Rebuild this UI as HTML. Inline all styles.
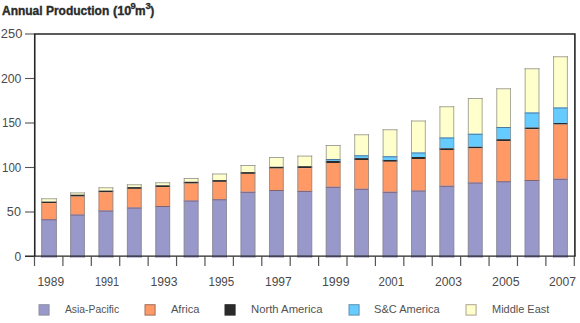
<!DOCTYPE html>
<html><head><meta charset="utf-8"><style>
html,body{margin:0;padding:0;background:#fff;width:580px;height:323px;overflow:hidden}
svg{display:block}
text{font-family:"Liberation Sans",sans-serif;fill:#333}
.ax{font-size:12px;fill:#4a4a4a}
.lg{font-size:11.5px;fill:#525252}
.tt{font-size:12px;font-weight:bold;fill:#2a2a2a;stroke:#2a2a2a;stroke-width:0.35}
.ts{font-size:9.5px;font-weight:bold;fill:#2a2a2a;stroke:#2a2a2a;stroke-width:0.3}
</style></head><body>
<svg width="580" height="323" viewBox="0 0 580 323">
<rect x="41.20" y="198.25" width="15.70" height="3.35" fill="#ffffcc"/>
<rect x="41.20" y="201.60" width="15.70" height="1.50" fill="#2b2b2b"/>
<rect x="41.20" y="203.10" width="15.70" height="16.15" fill="#ff9966"/>
<rect x="41.20" y="219.25" width="15.70" height="38.35" fill="#9898cb"/>
<line x1="41.20" y1="198.75" x2="56.90" y2="198.75" stroke="#9a9a9a" stroke-width="0.9"/>
<line x1="41.20" y1="219.75" x2="56.90" y2="219.75" stroke="#7d5a64" stroke-width="0.9"/>
<line x1="41.70" y1="198.25" x2="41.70" y2="257.6" stroke="#8f8f8f" stroke-width="0.9" opacity="0.85"/>
<line x1="56.40" y1="198.25" x2="56.40" y2="257.6" stroke="#8f8f8f" stroke-width="0.9" opacity="0.85"/>
<rect x="70.10" y="192.40" width="14.80" height="2.30" fill="#ffffcc"/>
<rect x="70.10" y="194.70" width="14.80" height="1.90" fill="#2b2b2b"/>
<rect x="70.10" y="196.60" width="14.80" height="17.90" fill="#ff9966"/>
<rect x="70.10" y="214.50" width="14.80" height="43.10" fill="#9898cb"/>
<line x1="70.10" y1="192.90" x2="84.90" y2="192.90" stroke="#9a9a9a" stroke-width="0.9"/>
<line x1="70.10" y1="215.00" x2="84.90" y2="215.00" stroke="#7d5a64" stroke-width="0.9"/>
<line x1="70.60" y1="192.40" x2="70.60" y2="257.6" stroke="#8f8f8f" stroke-width="0.9" opacity="0.85"/>
<line x1="84.40" y1="192.40" x2="84.40" y2="257.6" stroke="#8f8f8f" stroke-width="0.9" opacity="0.85"/>
<rect x="98.51" y="187.25" width="14.80" height="3.35" fill="#ffffcc"/>
<rect x="98.51" y="190.60" width="14.80" height="1.80" fill="#2b2b2b"/>
<rect x="98.51" y="192.40" width="14.80" height="18.10" fill="#ff9966"/>
<rect x="98.51" y="210.50" width="14.80" height="47.10" fill="#9898cb"/>
<line x1="98.51" y1="187.75" x2="113.31" y2="187.75" stroke="#9a9a9a" stroke-width="0.9"/>
<line x1="98.51" y1="211.00" x2="113.31" y2="211.00" stroke="#7d5a64" stroke-width="0.9"/>
<line x1="99.01" y1="187.25" x2="99.01" y2="257.6" stroke="#8f8f8f" stroke-width="0.9" opacity="0.85"/>
<line x1="112.81" y1="187.25" x2="112.81" y2="257.6" stroke="#8f8f8f" stroke-width="0.9" opacity="0.85"/>
<rect x="126.92" y="184.25" width="14.80" height="2.85" fill="#ffffcc"/>
<rect x="126.92" y="187.10" width="14.80" height="1.80" fill="#2b2b2b"/>
<rect x="126.92" y="188.90" width="14.80" height="18.60" fill="#ff9966"/>
<rect x="126.92" y="207.50" width="14.80" height="50.10" fill="#9898cb"/>
<line x1="126.92" y1="184.75" x2="141.72" y2="184.75" stroke="#9a9a9a" stroke-width="0.9"/>
<line x1="126.92" y1="208.00" x2="141.72" y2="208.00" stroke="#7d5a64" stroke-width="0.9"/>
<line x1="127.42" y1="184.25" x2="127.42" y2="257.6" stroke="#8f8f8f" stroke-width="0.9" opacity="0.85"/>
<line x1="141.22" y1="184.25" x2="141.22" y2="257.6" stroke="#8f8f8f" stroke-width="0.9" opacity="0.85"/>
<rect x="155.33" y="182.25" width="14.80" height="3.05" fill="#ffffcc"/>
<rect x="155.33" y="185.30" width="14.80" height="1.80" fill="#2b2b2b"/>
<rect x="155.33" y="187.10" width="14.80" height="18.90" fill="#ff9966"/>
<rect x="155.33" y="206.00" width="14.80" height="51.60" fill="#9898cb"/>
<line x1="155.33" y1="182.75" x2="170.13" y2="182.75" stroke="#9a9a9a" stroke-width="0.9"/>
<line x1="155.33" y1="206.50" x2="170.13" y2="206.50" stroke="#7d5a64" stroke-width="0.9"/>
<line x1="155.83" y1="182.25" x2="155.83" y2="257.6" stroke="#8f8f8f" stroke-width="0.9" opacity="0.85"/>
<line x1="169.63" y1="182.25" x2="169.63" y2="257.6" stroke="#8f8f8f" stroke-width="0.9" opacity="0.85"/>
<rect x="183.74" y="178.00" width="14.80" height="3.80" fill="#ffffcc"/>
<rect x="183.74" y="181.80" width="14.80" height="1.80" fill="#2b2b2b"/>
<rect x="183.74" y="183.60" width="14.80" height="16.90" fill="#ff9966"/>
<rect x="183.74" y="200.50" width="14.80" height="57.10" fill="#9898cb"/>
<line x1="183.74" y1="178.50" x2="198.54" y2="178.50" stroke="#9a9a9a" stroke-width="0.9"/>
<line x1="183.74" y1="201.00" x2="198.54" y2="201.00" stroke="#7d5a64" stroke-width="0.9"/>
<line x1="184.24" y1="178.00" x2="184.24" y2="257.6" stroke="#8f8f8f" stroke-width="0.9" opacity="0.85"/>
<line x1="198.04" y1="178.00" x2="198.04" y2="257.6" stroke="#8f8f8f" stroke-width="0.9" opacity="0.85"/>
<rect x="212.15" y="173.50" width="14.80" height="6.60" fill="#ffffcc"/>
<rect x="212.15" y="180.10" width="14.80" height="1.80" fill="#2b2b2b"/>
<rect x="212.15" y="181.90" width="14.80" height="17.35" fill="#ff9966"/>
<rect x="212.15" y="199.25" width="14.80" height="58.35" fill="#9898cb"/>
<line x1="212.15" y1="174.00" x2="226.95" y2="174.00" stroke="#9a9a9a" stroke-width="0.9"/>
<line x1="212.15" y1="199.75" x2="226.95" y2="199.75" stroke="#7d5a64" stroke-width="0.9"/>
<line x1="212.65" y1="173.50" x2="212.65" y2="257.6" stroke="#8f8f8f" stroke-width="0.9" opacity="0.85"/>
<line x1="226.45" y1="173.50" x2="226.45" y2="257.6" stroke="#8f8f8f" stroke-width="0.9" opacity="0.85"/>
<rect x="240.56" y="165.00" width="14.80" height="7.10" fill="#ffffcc"/>
<rect x="240.56" y="172.10" width="14.80" height="1.80" fill="#2b2b2b"/>
<rect x="240.56" y="173.90" width="14.80" height="17.85" fill="#ff9966"/>
<rect x="240.56" y="191.75" width="14.80" height="65.85" fill="#9898cb"/>
<line x1="240.56" y1="165.50" x2="255.36" y2="165.50" stroke="#9a9a9a" stroke-width="0.9"/>
<line x1="240.56" y1="192.25" x2="255.36" y2="192.25" stroke="#7d5a64" stroke-width="0.9"/>
<line x1="241.06" y1="165.00" x2="241.06" y2="257.6" stroke="#8f8f8f" stroke-width="0.9" opacity="0.85"/>
<line x1="254.86" y1="165.00" x2="254.86" y2="257.6" stroke="#8f8f8f" stroke-width="0.9" opacity="0.85"/>
<rect x="268.97" y="157.00" width="14.80" height="9.80" fill="#ffffcc"/>
<rect x="268.97" y="166.80" width="14.80" height="1.80" fill="#2b2b2b"/>
<rect x="268.97" y="168.60" width="14.80" height="21.40" fill="#ff9966"/>
<rect x="268.97" y="190.00" width="14.80" height="67.60" fill="#9898cb"/>
<line x1="268.97" y1="157.50" x2="283.77" y2="157.50" stroke="#9a9a9a" stroke-width="0.9"/>
<line x1="268.97" y1="190.50" x2="283.77" y2="190.50" stroke="#7d5a64" stroke-width="0.9"/>
<line x1="269.47" y1="157.00" x2="269.47" y2="257.6" stroke="#8f8f8f" stroke-width="0.9" opacity="0.85"/>
<line x1="283.27" y1="157.00" x2="283.27" y2="257.6" stroke="#8f8f8f" stroke-width="0.9" opacity="0.85"/>
<rect x="297.38" y="155.60" width="14.80" height="10.60" fill="#ffffcc"/>
<rect x="297.38" y="166.20" width="14.80" height="2.00" fill="#2b2b2b"/>
<rect x="297.38" y="168.20" width="14.80" height="22.70" fill="#ff9966"/>
<rect x="297.38" y="190.90" width="14.80" height="66.70" fill="#9898cb"/>
<line x1="297.38" y1="156.10" x2="312.18" y2="156.10" stroke="#9a9a9a" stroke-width="0.9"/>
<line x1="297.38" y1="191.40" x2="312.18" y2="191.40" stroke="#7d5a64" stroke-width="0.9"/>
<line x1="297.88" y1="155.60" x2="297.88" y2="257.6" stroke="#8f8f8f" stroke-width="0.9" opacity="0.85"/>
<line x1="311.68" y1="155.60" x2="311.68" y2="257.6" stroke="#8f8f8f" stroke-width="0.9" opacity="0.85"/>
<rect x="325.79" y="145.00" width="14.80" height="14.00" fill="#ffffcc"/>
<rect x="325.79" y="159.00" width="14.80" height="1.90" fill="#66ccff"/>
<rect x="325.79" y="160.90" width="14.80" height="2.10" fill="#2b2b2b"/>
<rect x="325.79" y="163.00" width="14.80" height="23.75" fill="#ff9966"/>
<rect x="325.79" y="186.75" width="14.80" height="70.85" fill="#9898cb"/>
<line x1="325.79" y1="145.50" x2="340.59" y2="145.50" stroke="#9a9a9a" stroke-width="0.9"/>
<line x1="325.79" y1="159.50" x2="340.59" y2="159.50" stroke="#4a6f96" stroke-width="0.9"/>
<line x1="325.79" y1="187.25" x2="340.59" y2="187.25" stroke="#7d5a64" stroke-width="0.9"/>
<line x1="326.29" y1="145.00" x2="326.29" y2="257.6" stroke="#8f8f8f" stroke-width="0.9" opacity="0.85"/>
<line x1="340.09" y1="145.00" x2="340.09" y2="257.6" stroke="#8f8f8f" stroke-width="0.9" opacity="0.85"/>
<rect x="354.20" y="134.25" width="14.80" height="21.05" fill="#ffffcc"/>
<rect x="354.20" y="155.30" width="14.80" height="2.80" fill="#66ccff"/>
<rect x="354.20" y="158.10" width="14.80" height="1.90" fill="#2b2b2b"/>
<rect x="354.20" y="160.00" width="14.80" height="28.75" fill="#ff9966"/>
<rect x="354.20" y="188.75" width="14.80" height="68.85" fill="#9898cb"/>
<line x1="354.20" y1="134.75" x2="369.00" y2="134.75" stroke="#9a9a9a" stroke-width="0.9"/>
<line x1="354.20" y1="155.80" x2="369.00" y2="155.80" stroke="#4a6f96" stroke-width="0.9"/>
<line x1="354.20" y1="189.25" x2="369.00" y2="189.25" stroke="#7d5a64" stroke-width="0.9"/>
<line x1="354.70" y1="134.25" x2="354.70" y2="257.6" stroke="#8f8f8f" stroke-width="0.9" opacity="0.85"/>
<line x1="368.50" y1="134.25" x2="368.50" y2="257.6" stroke="#8f8f8f" stroke-width="0.9" opacity="0.85"/>
<rect x="382.61" y="129.25" width="14.80" height="27.00" fill="#ffffcc"/>
<rect x="382.61" y="156.25" width="14.80" height="3.75" fill="#66ccff"/>
<rect x="382.61" y="160.00" width="14.80" height="1.80" fill="#2b2b2b"/>
<rect x="382.61" y="161.80" width="14.80" height="29.95" fill="#ff9966"/>
<rect x="382.61" y="191.75" width="14.80" height="65.85" fill="#9898cb"/>
<line x1="382.61" y1="129.75" x2="397.41" y2="129.75" stroke="#9a9a9a" stroke-width="0.9"/>
<line x1="382.61" y1="156.75" x2="397.41" y2="156.75" stroke="#4a6f96" stroke-width="0.9"/>
<line x1="382.61" y1="192.25" x2="397.41" y2="192.25" stroke="#7d5a64" stroke-width="0.9"/>
<line x1="383.11" y1="129.25" x2="383.11" y2="257.6" stroke="#8f8f8f" stroke-width="0.9" opacity="0.85"/>
<line x1="396.91" y1="129.25" x2="396.91" y2="257.6" stroke="#8f8f8f" stroke-width="0.9" opacity="0.85"/>
<rect x="411.02" y="120.50" width="14.80" height="32.00" fill="#ffffcc"/>
<rect x="411.02" y="152.50" width="14.80" height="4.50" fill="#66ccff"/>
<rect x="411.02" y="157.00" width="14.80" height="2.00" fill="#2b2b2b"/>
<rect x="411.02" y="159.00" width="14.80" height="31.50" fill="#ff9966"/>
<rect x="411.02" y="190.50" width="14.80" height="67.10" fill="#9898cb"/>
<line x1="411.02" y1="121.00" x2="425.82" y2="121.00" stroke="#9a9a9a" stroke-width="0.9"/>
<line x1="411.02" y1="153.00" x2="425.82" y2="153.00" stroke="#4a6f96" stroke-width="0.9"/>
<line x1="411.02" y1="191.00" x2="425.82" y2="191.00" stroke="#7d5a64" stroke-width="0.9"/>
<line x1="411.52" y1="120.50" x2="411.52" y2="257.6" stroke="#8f8f8f" stroke-width="0.9" opacity="0.85"/>
<line x1="425.32" y1="120.50" x2="425.32" y2="257.6" stroke="#8f8f8f" stroke-width="0.9" opacity="0.85"/>
<rect x="439.43" y="106.25" width="14.80" height="31.25" fill="#ffffcc"/>
<rect x="439.43" y="137.50" width="14.80" height="10.75" fill="#66ccff"/>
<rect x="439.43" y="148.25" width="14.80" height="1.75" fill="#2b2b2b"/>
<rect x="439.43" y="150.00" width="14.80" height="35.75" fill="#ff9966"/>
<rect x="439.43" y="185.75" width="14.80" height="71.85" fill="#9898cb"/>
<line x1="439.43" y1="106.75" x2="454.23" y2="106.75" stroke="#9a9a9a" stroke-width="0.9"/>
<line x1="439.43" y1="138.00" x2="454.23" y2="138.00" stroke="#4a6f96" stroke-width="0.9"/>
<line x1="439.43" y1="186.25" x2="454.23" y2="186.25" stroke="#7d5a64" stroke-width="0.9"/>
<line x1="439.93" y1="106.25" x2="439.93" y2="257.6" stroke="#8f8f8f" stroke-width="0.9" opacity="0.85"/>
<line x1="453.73" y1="106.25" x2="453.73" y2="257.6" stroke="#8f8f8f" stroke-width="0.9" opacity="0.85"/>
<rect x="467.84" y="98.00" width="14.80" height="35.75" fill="#ffffcc"/>
<rect x="467.84" y="133.75" width="14.80" height="13.00" fill="#66ccff"/>
<rect x="467.84" y="146.75" width="14.80" height="1.65" fill="#2b2b2b"/>
<rect x="467.84" y="148.40" width="14.80" height="34.10" fill="#ff9966"/>
<rect x="467.84" y="182.50" width="14.80" height="75.10" fill="#9898cb"/>
<line x1="467.84" y1="98.50" x2="482.64" y2="98.50" stroke="#9a9a9a" stroke-width="0.9"/>
<line x1="467.84" y1="134.25" x2="482.64" y2="134.25" stroke="#4a6f96" stroke-width="0.9"/>
<line x1="467.84" y1="183.00" x2="482.64" y2="183.00" stroke="#7d5a64" stroke-width="0.9"/>
<line x1="468.34" y1="98.00" x2="468.34" y2="257.6" stroke="#8f8f8f" stroke-width="0.9" opacity="0.85"/>
<line x1="482.14" y1="98.00" x2="482.14" y2="257.6" stroke="#8f8f8f" stroke-width="0.9" opacity="0.85"/>
<rect x="496.25" y="88.25" width="14.80" height="38.75" fill="#ffffcc"/>
<rect x="496.25" y="127.00" width="14.80" height="12.20" fill="#66ccff"/>
<rect x="496.25" y="139.20" width="14.80" height="1.90" fill="#2b2b2b"/>
<rect x="496.25" y="141.10" width="14.80" height="40.15" fill="#ff9966"/>
<rect x="496.25" y="181.25" width="14.80" height="76.35" fill="#9898cb"/>
<line x1="496.25" y1="88.75" x2="511.05" y2="88.75" stroke="#9a9a9a" stroke-width="0.9"/>
<line x1="496.25" y1="127.50" x2="511.05" y2="127.50" stroke="#4a6f96" stroke-width="0.9"/>
<line x1="496.25" y1="181.75" x2="511.05" y2="181.75" stroke="#7d5a64" stroke-width="0.9"/>
<line x1="496.75" y1="88.25" x2="496.75" y2="257.6" stroke="#8f8f8f" stroke-width="0.9" opacity="0.85"/>
<line x1="510.55" y1="88.25" x2="510.55" y2="257.6" stroke="#8f8f8f" stroke-width="0.9" opacity="0.85"/>
<rect x="524.66" y="68.25" width="14.80" height="44.25" fill="#ffffcc"/>
<rect x="524.66" y="112.50" width="14.80" height="15.00" fill="#66ccff"/>
<rect x="524.66" y="127.50" width="14.80" height="1.75" fill="#2b2b2b"/>
<rect x="524.66" y="129.25" width="14.80" height="50.75" fill="#ff9966"/>
<rect x="524.66" y="180.00" width="14.80" height="77.60" fill="#9898cb"/>
<line x1="524.66" y1="68.75" x2="539.46" y2="68.75" stroke="#9a9a9a" stroke-width="0.9"/>
<line x1="524.66" y1="113.00" x2="539.46" y2="113.00" stroke="#4a6f96" stroke-width="0.9"/>
<line x1="524.66" y1="180.50" x2="539.46" y2="180.50" stroke="#7d5a64" stroke-width="0.9"/>
<line x1="525.16" y1="68.25" x2="525.16" y2="257.6" stroke="#8f8f8f" stroke-width="0.9" opacity="0.85"/>
<line x1="538.96" y1="68.25" x2="538.96" y2="257.6" stroke="#8f8f8f" stroke-width="0.9" opacity="0.85"/>
<rect x="553.07" y="56.25" width="14.80" height="51.25" fill="#ffffcc"/>
<rect x="553.07" y="107.50" width="14.80" height="15.50" fill="#66ccff"/>
<rect x="553.07" y="123.00" width="14.80" height="1.60" fill="#2b2b2b"/>
<rect x="553.07" y="124.60" width="14.80" height="54.15" fill="#ff9966"/>
<rect x="553.07" y="178.75" width="14.80" height="78.85" fill="#9898cb"/>
<line x1="553.07" y1="56.75" x2="567.87" y2="56.75" stroke="#9a9a9a" stroke-width="0.9"/>
<line x1="553.07" y1="108.00" x2="567.87" y2="108.00" stroke="#4a6f96" stroke-width="0.9"/>
<line x1="553.07" y1="179.25" x2="567.87" y2="179.25" stroke="#7d5a64" stroke-width="0.9"/>
<line x1="553.57" y1="56.25" x2="553.57" y2="257.6" stroke="#8f8f8f" stroke-width="0.9" opacity="0.85"/>
<line x1="567.37" y1="56.25" x2="567.37" y2="257.6" stroke="#8f8f8f" stroke-width="0.9" opacity="0.85"/>
<line x1="25" y1="34.00" x2="34.5" y2="34.00" stroke="#555" stroke-width="1.1"/>
<line x1="25" y1="78.50" x2="34.5" y2="78.50" stroke="#555" stroke-width="1.1"/>
<line x1="25" y1="123.00" x2="34.5" y2="123.00" stroke="#555" stroke-width="1.1"/>
<line x1="25" y1="167.50" x2="34.5" y2="167.50" stroke="#555" stroke-width="1.1"/>
<line x1="25" y1="212.00" x2="34.5" y2="212.00" stroke="#555" stroke-width="1.1"/>
<line x1="25" y1="256.50" x2="34.5" y2="256.50" stroke="#555" stroke-width="1.1"/>
<line x1="34.50" y1="256.5" x2="34.50" y2="266" stroke="#555" stroke-width="1.2"/>
<line x1="62.91" y1="256.5" x2="62.91" y2="266" stroke="#555" stroke-width="1.2"/>
<line x1="91.32" y1="256.5" x2="91.32" y2="266" stroke="#555" stroke-width="1.2"/>
<line x1="119.73" y1="256.5" x2="119.73" y2="266" stroke="#555" stroke-width="1.2"/>
<line x1="148.14" y1="256.5" x2="148.14" y2="266" stroke="#555" stroke-width="1.2"/>
<line x1="176.55" y1="256.5" x2="176.55" y2="266" stroke="#555" stroke-width="1.2"/>
<line x1="204.96" y1="256.5" x2="204.96" y2="266" stroke="#555" stroke-width="1.2"/>
<line x1="233.37" y1="256.5" x2="233.37" y2="266" stroke="#555" stroke-width="1.2"/>
<line x1="261.78" y1="256.5" x2="261.78" y2="266" stroke="#555" stroke-width="1.2"/>
<line x1="290.19" y1="256.5" x2="290.19" y2="266" stroke="#555" stroke-width="1.2"/>
<line x1="318.60" y1="256.5" x2="318.60" y2="266" stroke="#555" stroke-width="1.2"/>
<line x1="347.01" y1="256.5" x2="347.01" y2="266" stroke="#555" stroke-width="1.2"/>
<line x1="375.42" y1="256.5" x2="375.42" y2="266" stroke="#555" stroke-width="1.2"/>
<line x1="403.83" y1="256.5" x2="403.83" y2="266" stroke="#555" stroke-width="1.2"/>
<line x1="432.24" y1="256.5" x2="432.24" y2="266" stroke="#555" stroke-width="1.2"/>
<line x1="460.65" y1="256.5" x2="460.65" y2="266" stroke="#555" stroke-width="1.2"/>
<line x1="489.06" y1="256.5" x2="489.06" y2="266" stroke="#555" stroke-width="1.2"/>
<line x1="517.47" y1="256.5" x2="517.47" y2="266" stroke="#555" stroke-width="1.2"/>
<line x1="545.88" y1="256.5" x2="545.88" y2="266" stroke="#555" stroke-width="1.2"/>
<line x1="574.29" y1="256.5" x2="574.29" y2="266" stroke="#555" stroke-width="1.2"/>
<path d="M34.75 256.2 V34 H574.9 V256.2" fill="none" stroke="#262626" stroke-width="1.6"/>
<line x1="25" y1="256.05" x2="575.7" y2="256.05" stroke="#262626" stroke-width="1.3"/>
<rect x="39.0" y="304.7" width="10.1" height="10.4" fill="#9898cb" stroke="#8f8f9f" stroke-width="1"/>
<rect x="145.0" y="304.7" width="10.1" height="10.4" fill="#ff9966" stroke="#a07060" stroke-width="1"/>
<rect x="225.0" y="304.7" width="10.1" height="10.4" fill="#2b2b2b" stroke="#2b2b2b" stroke-width="1"/>
<rect x="349.0" y="304.7" width="10.1" height="10.4" fill="#66ccff" stroke="#6090b0" stroke-width="1"/>
<rect x="466.0" y="304.7" width="10.1" height="10.4" fill="#ffffcc" stroke="#b0a090" stroke-width="1"/>
<text id="t_main" x="1.99" y="14.6" class="tt" textLength="107.24" lengthAdjust="spacingAndGlyphs">Annual Production</text>
<text id="t_p10" x="113.00" y="14.6" class="tt" textLength="18.36" lengthAdjust="spacingAndGlyphs">(10</text>
<text id="t_9" x="130.48" y="8.8" class="ts">9</text>
<text id="t_m" x="134.90" y="14.6" class="tt" textLength="10.56" lengthAdjust="spacingAndGlyphs">m</text>
<text id="t_3" x="145.55" y="8.8" class="ts">3</text>
<text id="t_rp" x="150.25" y="14.6" class="tt">)</text>
<text id="y_250" x="0.87" y="38.3" class="ax" textLength="21.50" lengthAdjust="spacingAndGlyphs">250</text>
<text id="y_200" x="0.93" y="82.8" class="ax" textLength="20.45" lengthAdjust="spacingAndGlyphs">200</text>
<text id="y_150" x="1.99" y="127.3" class="ax" textLength="19.22" lengthAdjust="spacingAndGlyphs">150</text>
<text id="y_100" x="1.99" y="171.8" class="ax" textLength="19.22" lengthAdjust="spacingAndGlyphs">100</text>
<text id="y_50" x="6.89" y="216.3" class="ax" textLength="14.02" lengthAdjust="spacingAndGlyphs">50</text>
<text id="y_0" x="14.50" y="260.8" class="ax">0</text>
<text id="x_1989" x="37.45" y="286.2" class="ax" textLength="26.63" lengthAdjust="spacingAndGlyphs">1989</text>
<text id="x_1991" x="94.97" y="286.2" class="ax" textLength="24.15" lengthAdjust="spacingAndGlyphs">1991</text>
<text id="x_1993" x="150.44" y="286.2" class="ax" textLength="27.07" lengthAdjust="spacingAndGlyphs">1993</text>
<text id="x_1995" x="208.45" y="286.2" class="ax" textLength="25.76" lengthAdjust="spacingAndGlyphs">1995</text>
<text id="x_1997" x="264.96" y="286.2" class="ax" textLength="26.82" lengthAdjust="spacingAndGlyphs">1997</text>
<text id="x_1999" x="321.97" y="286.2" class="ax" textLength="27.60" lengthAdjust="spacingAndGlyphs">1999</text>
<text id="x_2001" x="378.51" y="286.2" class="ax" textLength="25.68" lengthAdjust="spacingAndGlyphs">2001</text>
<text id="x_2003" x="435.00" y="286.2" class="ax" textLength="26.98" lengthAdjust="spacingAndGlyphs">2003</text>
<text id="x_2005" x="492.00" y="286.2" class="ax" textLength="27.51" lengthAdjust="spacingAndGlyphs">2005</text>
<text id="x_2007" x="548.97" y="286.2" class="ax" textLength="26.97" lengthAdjust="spacingAndGlyphs">2007</text>
<text id="l_0" x="64.95" y="313.4" class="lg" textLength="54.15" lengthAdjust="spacingAndGlyphs">Asia-Pacific</text>
<text id="l_1" x="170.90" y="313.4" class="lg" textLength="28.66" lengthAdjust="spacingAndGlyphs">Africa</text>
<text id="l_2" x="250.98" y="313.4" class="lg" textLength="71.56" lengthAdjust="spacingAndGlyphs">North America</text>
<text id="l_3" x="374.07" y="313.4" class="lg" textLength="65.56" lengthAdjust="spacingAndGlyphs">S&amp;C America</text>
<text id="l_4" x="492.00" y="313.4" class="lg" textLength="57.27" lengthAdjust="spacingAndGlyphs">Middle East</text>
</svg>
</body></html>
